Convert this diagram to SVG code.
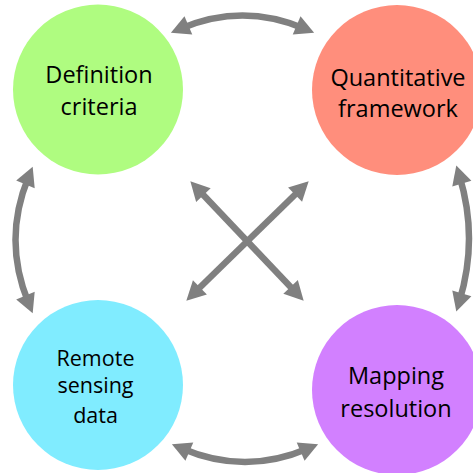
<svg xmlns="http://www.w3.org/2000/svg" width="473" height="473" viewBox="0 0 473 473">
<style>
.node text{font-family:"Open Sans","Liberation Sans",sans-serif;fill:#000;text-anchor:middle}
.conn path{fill:none;stroke:#808080;stroke-width:6.5;marker-start:url(#ah);marker-end:url(#ah)}
</style>
<defs>
<marker id="ah" markerUnits="userSpaceOnUse" viewBox="0 -10 19 20" markerWidth="19" markerHeight="20" refX="8" refY="0" orient="auto-start-reverse" overflow="visible">
<path d="M0,-10 L19,0 L0,10 Z" fill="#808080"/>
</marker>
</defs>
<rect width="473" height="473" fill="#fff"/>
<g id="node-definition" class="node">
<circle cx="98" cy="89.5" r="85" fill="#affc80"/>
<text x="99" y="83" font-size="23.5">Definition</text>
<text x="99" y="115" font-size="23.5">criteria</text>
</g>
<g id="node-quantitative" class="node">
<circle cx="397" cy="90" r="85" fill="#ff8e7c"/>
<text x="398" y="86" font-size="23.5">Quantitative</text>
<text x="398" y="117" font-size="23.5">framework</text>
</g>
<g id="node-remote" class="node">
<circle cx="98" cy="385" r="85" fill="#80ecff"/>
<text x="95.5" y="366" font-size="21.5">Remote</text>
<text x="95.5" y="393" font-size="21.5">sensing</text>
<text x="95.5" y="423" font-size="21.5">data</text>
</g>
<g id="node-mapping" class="node">
<circle cx="397" cy="390" r="85" fill="#d280ff"/>
<text x="396" y="384" font-size="23.5">Mapping</text>
<text x="396" y="417" font-size="23.5">resolution</text>
</g>
<g id="connectors" class="conn">
<path d="M181,28.5 Q242.5,2.5 304,28.5"/>
<path d="M182,448.5 Q245,475.5 308,448.5"/>
<path d="M28.5,177 Q2.5,240 28.5,303"/>
<path d="M459.5,176 Q478.5,238.5 459.5,301"/>
<path d="M197.9,189.3 L296.1,292.7"/>
<path d="M300.8,189 L194.2,293"/>
</g>
</svg>
